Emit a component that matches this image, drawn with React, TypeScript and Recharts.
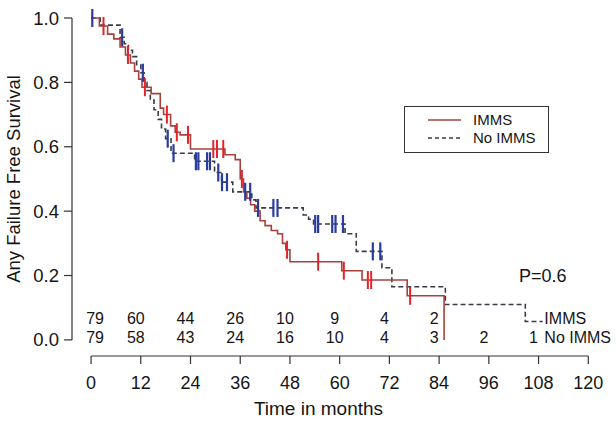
import React from 'react';
import { ComposedChart, Line, Scatter, XAxis, YAxis, ReferenceLine, Legend, Label } from 'recharts';

// ---------- data ----------
const timeTicks = [0, 12, 24, 36, 48, 60, 72, 84, 96, 108, 120];
const survTicks = [0, 0.2, 0.4, 0.6, 0.8, 1.0];

// IMMS Kaplan-Meier steps (time in months, survival after the step)
const immsTimes = [0, 2, 4, 5.5, 7, 8.3, 9.5, 10.5, 11.5, 12.3, 14.5, 16.7, 17.5, 19.2, 20.3, 21.5, 24, 32.3, 34.8, 36, 36.8, 37.6, 38.5, 39.5, 40.8, 42, 43.5, 45, 46.2, 47, 48, 60.5, 65.4, 76.3, 85.2];
const immsSurv = [1, 0.975, 0.95, 0.935, 0.91, 0.885, 0.86, 0.835, 0.81, 0.785, 0.765, 0.72, 0.7, 0.665, 0.645, 0.637, 0.593, 0.575, 0.56, 0.5, 0.46, 0.44, 0.42, 0.4, 0.37, 0.355, 0.34, 0.33, 0.3, 0.28, 0.243, 0.215, 0.186, 0.137, 0];
const immsCensor = [3.0, 8.9, 13.0, 18.3, 20.7, 23.4, 29.5, 30.4, 31.9, 36.4, 47.3, 54.8, 61.0, 66.8, 67.6, 77.0];

// No IMMS Kaplan-Meier steps
const noImmsTimes = [0, 2.2, 7, 8, 9, 10, 11, 12, 12.8, 13.5, 14.3, 15.2, 16.2, 17, 18, 19.3, 25, 29.8, 31.5, 34.2, 38.8, 39.8, 51.2, 52.5, 53.7, 61.3, 64, 70.2, 72.6, 85.5, 104.8, 109];
const noImmsSurv = [1, 0.978, 0.94, 0.92, 0.9, 0.88, 0.855, 0.83, 0.8, 0.775, 0.745, 0.715, 0.685, 0.655, 0.625, 0.58, 0.555, 0.52, 0.49, 0.46, 0.435, 0.41, 0.388, 0.375, 0.36, 0.33, 0.275, 0.224, 0.165, 0.11, 0.057, 0.057];
const noImmsCensor = [0.3, 7.5, 12.5, 18.5, 19.9, 25.3, 25.9, 28.0, 28.7, 30.7, 31.6, 32.8, 37.2, 38.4, 40.3, 44.0, 45.0, 54.1, 54.8, 58.2, 59.0, 60.8, 68.0, 69.8];

// Number at risk
const riskTimes = [0, 12, 24, 36, 48, 60, 72, 84, 96, 108];
const riskImms = [79, 60, 44, 26, 10, 9, 4, 2];
const riskNoImms = [79, 58, 43, 24, 16, 10, 4, 3, 2, 1];

const groupNames = ['IMMS', 'No IMMS'];
const pValueText = 'P=0.6';

// ---------- styles ----------
const FONT = "'Liberation Sans', Arial, Helvetica, sans-serif";
const IMMS_LINE = '#a8413c';
const IMMS_CENSOR = '#e3242b';
const NO_LINE = '#3b3b48';
const NO_CENSOR = '#2a3c9e';
const AXIS = '#333333';
const TEXT = '#151515';

const X_AXIS_LEVEL = -0.05;
const ROW_IMMS = 0.068;
const ROW_NO = 0.007;

const toSteps = (ts: number[], ss: number[]) => ts.map((t, i) => ({ t, s: ss[i] }));
const survAt = (ts: number[], ss: number[], t: number) => {
  let v = ss[0];
  for (let i = 0; i < ts.length; i++) if (ts[i] <= t) v = ss[i];
  return v;
};

const immsData = toSteps(immsTimes, immsSurv);
const noImmsData = toSteps(noImmsTimes, noImmsSurv);
const immsCensorData = immsCensor.map((t) => ({ t, s: survAt(immsTimes, immsSurv, t) }));
const noImmsCensorData = noImmsCensor.map((t) => ({ t, s: survAt(noImmsTimes, noImmsSurv, t) }));

const riskImmsData = riskImms.map((n, i) => ({ t: riskTimes[i], s: ROW_IMMS, n: String(n), i }));
const riskNoData = riskNoImms.map((n, i) => ({ t: riskTimes[i], s: ROW_NO, n: String(n), i }));
const rowLabelData = [
  { t: 109.4, s: ROW_IMMS, n: groupNames[0] },
  { t: 109.4, s: ROW_NO, n: groupNames[1] },
];
const pData = [{ t: 103.3, s: 0.2, n: pValueText }];

const censorShape = (color: string, w: number) => (props: any) => {
  const { cx, cy } = props;
  if (cx == null || cy == null) return <g />;
  return <line x1={cx} x2={cx} y1={cy - 9} y2={cy + 9} stroke={color} strokeWidth={w} />;
};

const riskShape = (props: any) => {
  const { cx, cy, payload } = props;
  const dx = payload.i === 0 ? 4 : -5;
  return (
    <text x={cx + dx} y={cy} textAnchor="middle" dominantBaseline="central" fontFamily={FONT} fontSize={16} fill={TEXT}>
      {payload.n}
    </text>
  );
};

const leftTextShape = (size: number) => (props: any) => {
  const { cx, cy, payload } = props;
  return (
    <text x={cx} y={cy} textAnchor="start" dominantBaseline="central" fontFamily={FONT} fontSize={size} fill={TEXT}>
      {payload.n}
    </text>
  );
};

const renderLegend = () => (
  <div
    style={{
      position: 'relative',
      width: 145,
      height: 47,
      border: `1px solid ${AXIS}`,
      boxSizing: 'border-box',
      background: '#fff',
      fontFamily: FONT,
      fontSize: 15,
      color: TEXT,
    }}
  >
    {groupNames.map((name, i) => (
      <div key={name} style={{ position: 'absolute', left: 0, top: i === 0 ? 4 : 22, height: 18, width: 143 }}>
        <svg width={60} height={18} style={{ position: 'absolute', left: 0, top: 0 }}>
          <line
            x1={23}
            x2={56}
            y1={9}
            y2={9}
            stroke={i === 0 ? IMMS_LINE : NO_LINE}
            strokeWidth={1.5}
            strokeDasharray={i === 0 ? undefined : '4 3'}
          />
        </svg>
        <span style={{ position: 'absolute', left: 68, top: 0, lineHeight: '18px' }}>{name}</span>
      </div>
    ))}
  </div>
);

const renderXTitle = (props: any) => {
  const vb = props.viewBox || {};
  return (
    <text x={vb.x + vb.width / 2 - 22} y={415} textAnchor="middle" fontFamily={FONT} fontSize={19} fill={TEXT}>
      Time in months
    </text>
  );
};

const renderYTitle = (props: any) => {
  const vb = props.viewBox || {};
  const cx = 13;
  const cy = vb.y + vb.height / 2 - 8;
  return (
    <text x={cx} y={cy} transform={`rotate(-90 ${cx} ${cy})`} textAnchor="middle" dominantBaseline="central" fontFamily={FONT} fontSize={18.5} fill={TEXT}>
      Any Failure Free Survival
    </text>
  );
};

export default function App() {
  return (
    <div style={{ position: 'absolute', left: 0, top: 0, width: 616, height: 421, background: '#fff' }}>
      <ComposedChart width={616} height={421} margin={{ top: 18, right: 7, bottom: 0, left: 0 }}>
        <XAxis
          type="number"
          dataKey="t"
          domain={[-4.6, 125]}
          ticks={timeTicks}
          interval={0}
          axisLine={false}
          tickLine={{ stroke: AXIS, strokeWidth: 1.2 }}
          tickSize={8}
          tickMargin={12}
          height={65}
          tick={{ fill: TEXT, fontSize: 18, fontFamily: FONT }}
        >
          <Label content={renderXTitle} />
        </XAxis>
        <YAxis
          type="number"
          dataKey="s"
          domain={[X_AXIS_LEVEL, 1]}
          ticks={survTicks}
          interval={0}
          axisLine={false}
          tickLine={{ stroke: AXIS, strokeWidth: 1.2 }}
          tickSize={8}
          tickMargin={5}
          width={72}
          tickFormatter={(v: number) => v.toFixed(1)}
          tick={{ fill: TEXT, fontSize: 18.5, fontFamily: FONT }}
        >
          <Label content={renderYTitle} />
        </YAxis>
        <ReferenceLine
          segment={[{ x: 0, y: X_AXIS_LEVEL }, { x: 120, y: X_AXIS_LEVEL }]}
          stroke={AXIS}
          strokeWidth={1.2}
          ifOverflow="visible"
        />
        <ReferenceLine
          segment={[{ x: -4.6, y: 0 }, { x: -4.6, y: 1 }]}
          stroke={AXIS}
          strokeWidth={1.2}
          ifOverflow="visible"
        />
        <Legend
          layout="horizontal"
          verticalAlign="middle"
          align="center"
          content={renderLegend}
          wrapperStyle={{ position: 'absolute', left: 404, top: 106, width: 145, height: 47 }}
        />
        <Line
          data={noImmsData}
          dataKey="s"
          type="stepAfter"
          stroke={NO_LINE}
          strokeWidth={1.6}
          strokeDasharray="5 3"
          dot={false}
          isAnimationActive={false}
          legendType="none"
        />
        <Line
          data={immsData}
          dataKey="s"
          type="stepAfter"
          stroke={IMMS_LINE}
          strokeWidth={1.6}
          dot={false}
          isAnimationActive={false}
          legendType="none"
        />
        <Scatter data={noImmsCensorData} dataKey="s" shape={censorShape(NO_CENSOR, 2.2)} isAnimationActive={false} legendType="none" />
        <Scatter data={immsCensorData} dataKey="s" shape={censorShape(IMMS_CENSOR, 2)} isAnimationActive={false} legendType="none" />
        <Scatter data={riskImmsData} dataKey="s" shape={riskShape} isAnimationActive={false} legendType="none" />
        <Scatter data={riskNoData} dataKey="s" shape={riskShape} isAnimationActive={false} legendType="none" />
        <Scatter data={rowLabelData} dataKey="s" shape={leftTextShape(16)} isAnimationActive={false} legendType="none" />
        <Scatter data={pData} dataKey="s" shape={leftTextShape(18)} isAnimationActive={false} legendType="none" />
      </ComposedChart>
    </div>
  );
}
